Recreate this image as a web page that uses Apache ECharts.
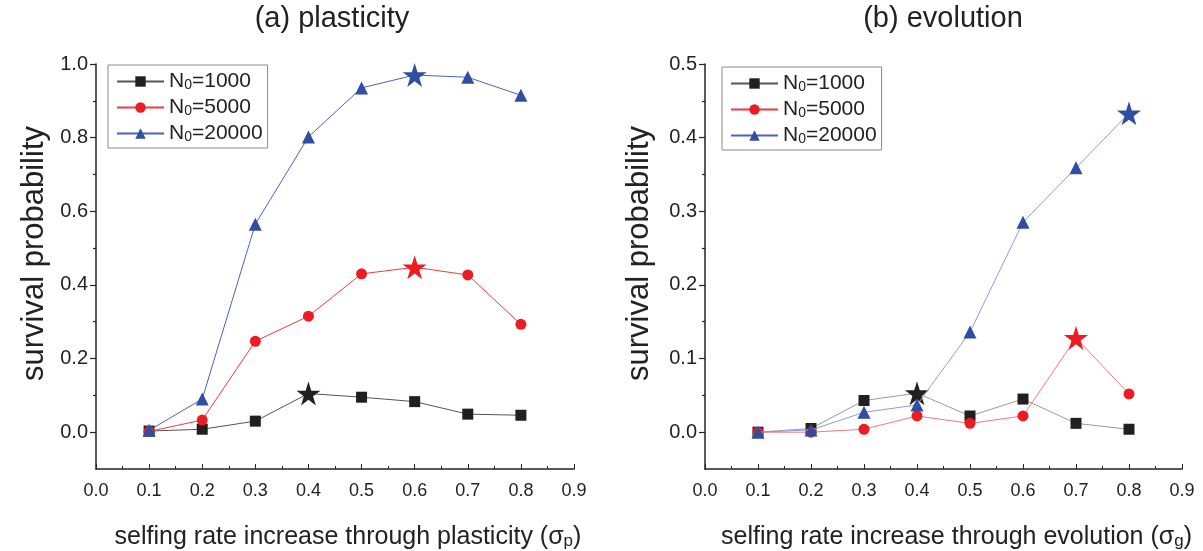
<!DOCTYPE html>
<html><head><meta charset="utf-8">
<script src="https://cdn.jsdelivr.net/npm/echarts@6/dist/echarts.min.js"></script>
<style>html,body{margin:0;padding:0;background:#fff}#c{width:1203px;height:551px}</style>
</head><body><div id="c"></div>
<script>
const xs = [0.1, 0.2, 0.3, 0.4, 0.5, 0.6, 0.7, 0.8];
const seriesNames = ['N0=1000', 'N0=5000', 'N0=20000'];
// (a) plasticity
const plast1000 = [0.003, 0.008, 0.030, 0.105, 0.095, 0.083, 0.049, 0.046];
const plast5000 = [0.002, 0.033, 0.247, 0.315, 0.430, 0.448, 0.427, 0.293];
const plast20000 = [0.005, 0.090, 0.565, 0.802, 0.935, 0.970, 0.964, 0.915];
const plastStar = [3, 5, 5];
// (b) evolution
const evo1000 = [0.000, 0.005, 0.043, 0.053, 0.022, 0.045, 0.012, 0.004];
const evo5000 = [0.000, 0.000, 0.004, 0.022, 0.012, 0.022, 0.128, 0.052];
const evo20000 = [0.000, 0.003, 0.027, 0.037, 0.136, 0.285, 0.359, 0.433];
const evoStar = [3, 6, 7];
const yTicksA = [0, 0.2, 0.4, 0.6, 0.8, 1.0];
const yMinorA = [0.1, 0.3, 0.5, 0.7, 0.9];
const yTicksB = [0, 0.1, 0.2, 0.3, 0.4, 0.5];
const yMinorB = [0.05, 0.15, 0.25, 0.35, 0.45];

const FONT = 'Liberation Sans, Arial, sans-serif';
const STAR = 'path://M50,0 L61.2,34.5 L97.6,34.5 L68.2,55.9 L79.4,90.5 L50,69.1 L20.6,90.5 L31.8,55.9 L2.4,34.5 L38.8,34.5 Z';
const markerColors = ['#231f20', '#ed1c24', '#2f4da3'];
const lineColorsA = ['#555555', '#ee3a40', '#4a64b5'];
const lineColorsB = ['#9a9a9a', '#f07a7e', '#8d9dd2'];
const symbols = ['rect', 'circle', 'triangle'];
const symSizes = [11, 11, 13];

function mkSeries(vals, idx, starIdx, gridIdx, lineColors) {
  return {
    name: seriesNames[idx], type: 'line',
    xAxisIndex: gridIdx, yAxisIndex: gridIdx * 2,
    symbol: symbols[idx], symbolSize: symSizes[idx], showAllSymbol: true,
    lineStyle: { color: lineColors[idx], width: 1 },
    itemStyle: { color: markerColors[idx] },
    data: vals.map((v, i) => i === starIdx
      ? { value: [xs[i], v], symbol: STAR, symbolSize: 24 }
      : { value: [xs[i], v] }),
    z: 3 + idx, animation: false
  };
}

function xAxis(gridIdx, name) {
  return {
    type: 'value', gridIndex: gridIdx, min: 0, max: 0.9, interval: 0.1, position: 'bottom',
    axisLine: { show: true, onZero: false, lineStyle: { color: '#222', width: 1.5 } },
    axisTick: { show: true, inside: true, length: 5, lineStyle: { color: '#222' } },
    minorTick: { show: true, splitNumber: 2, length: 3, lineStyle: { color: '#222' } },
    splitLine: { show: false },
    axisLabel: { fontFamily: FONT, fontSize: 18, color: '#222', margin: 13,
      formatter: v => v.toFixed(1) },
    name: name, nameLocation: 'middle', nameGap: 55,
    nameTextStyle: { fontFamily: FONT, fontSize: 25, color: '#222', padding: [0, 0, 0, 26],
      rich: { n: { fontFamily: FONT, fontSize: 25, color: '#222' },
              s: { fontFamily: FONT, fontSize: 17, color: '#222', verticalAlign: 'bottom', padding: [9, 0, 0, 0] } } }
  };
}

function yAxes(gridIdx, min, max, major, minor, gap) {
  return [{
    type: 'value', gridIndex: gridIdx, min: min, max: max, position: 'left',
    axisLine: { show: true, onZero: false, lineStyle: { color: '#222', width: 1.5 } },
    axisTick: { show: true, length: 6, customValues: major, lineStyle: { color: '#222', width: 1.2 } },
    axisLabel: { fontFamily: FONT, fontSize: 20, color: '#222', margin: 8, customValues: major,
      formatter: v => v.toFixed(1) },
    splitLine: { show: false },
    name: 'survival probability', nameLocation: 'middle', nameGap: gap,
    nameTextStyle: { fontFamily: FONT, fontSize: 31, color: '#222', padding: [0, 0, 0, 26] }
  }, {
    type: 'value', gridIndex: gridIdx, min: min, max: max, position: 'left', offset: 0,
    axisLine: { show: false, onZero: false },
    axisTick: { show: true, length: 3, customValues: minor, lineStyle: { color: '#222', width: 1.2 } },
    axisLabel: { show: false },
    splitLine: { show: false }
  }];
}

function legend(left, top) {
  return {
    left: left, top: top, orient: 'vertical', itemGap: 5,
    itemWidth: 47, itemHeight: 13,
    borderColor: '#8a8a8a', borderWidth: 1, padding: [6, 5, 4, 8],
    textStyle: { fontFamily: FONT, fontSize: 21, color: '#222',
      rich: { n: { fontFamily: FONT, fontSize: 21, color: '#222' },
              s: { fontFamily: FONT, fontSize: 14, color: '#222', verticalAlign: 'bottom', padding: [7, 0, 0, 0] } } },
    formatter: name => '{n|N}{s|0}{n|' + name.slice(2) + '}',
    data: seriesNames
  };
}

const chart = echarts.init(document.getElementById('c'), null, { renderer: 'canvas' });
chart.setOption({
  animation: false,
  grid: [
    { left: 96, top: 64, width: 478, height: 405, outerBoundsMode: 'none', containLabel: false },
    { left: 705, top: 64, width: 477, height: 405, outerBoundsMode: 'none', containLabel: false }
  ],
  xAxis: [
    xAxis(0, '{n|selfing rate increase through plasticity (σ}{s|p}{n|)}'),
    xAxis(1, '{n|selfing rate increase through evolution (σ}{s|g}{n|)}')
  ],
  yAxis: [].concat(yAxes(0, -0.1, 1.0, yTicksA, yMinorA, 46), yAxes(1, -0.05, 0.5, yTicksB, yMinorB, 50)),
  legend: [legend(108, 65), legend(722, 67)],
  graphic: [
    { type: 'text', x: 332, y: 4, style: { text: '(a) plasticity', textAlign: 'center', fontFamily: FONT, fontSize: 29, fill: '#222' } },
    { type: 'text', x: 943, y: 4, style: { text: '(b) evolution', textAlign: 'center', fontFamily: FONT, fontSize: 29, fill: '#222' } }
  ],
  series: [
    mkSeries(plast1000, 0, plastStar[0], 0, lineColorsA),
    mkSeries(plast5000, 1, plastStar[1], 0, lineColorsA),
    mkSeries(plast20000, 2, plastStar[2], 0, lineColorsA),
    mkSeries(evo1000, 0, evoStar[0], 1, lineColorsB),
    mkSeries(evo5000, 1, evoStar[1], 1, lineColorsB),
    mkSeries(evo20000, 2, evoStar[2], 1, lineColorsB)
  ]
});
</script></body></html>
